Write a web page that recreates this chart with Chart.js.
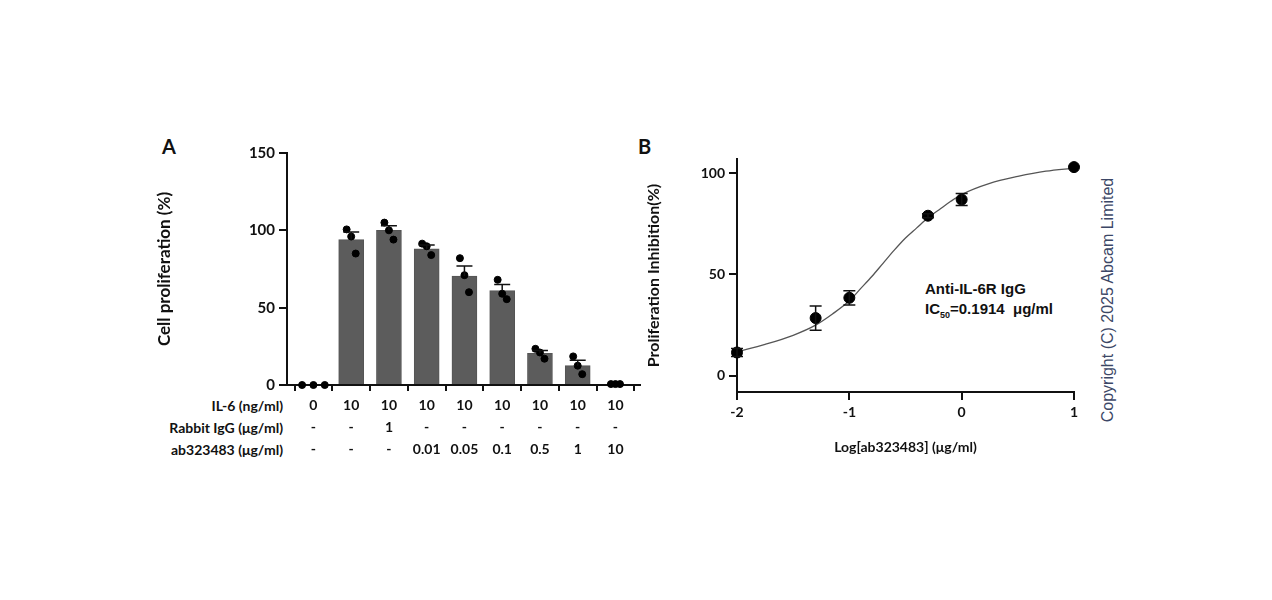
<!DOCTYPE html>
<html><head><meta charset="utf-8">
<script src="https://cdn.jsdelivr.net/npm/chart.js@4/dist/chart.umd.min.js"></script>
<style>
body{margin:0;width:1272px;height:600px;background:#fff;position:relative;font-family:Lato,"Noto Sans",sans-serif;overflow:hidden}
canvas{position:absolute}
.t{position:absolute;font-weight:bold;color:#111;white-space:nowrap}
</style></head><body>
<div class="t" style="left:162px;top:134px;font-size:20px">A</div>
<div class="t" style="left:638px;top:134px;font-size:20px">B</div>
<div class="t" style="right:989px;top:397px;font-size:14px;text-align:right">IL-6 (ng/ml)</div>
<div class="t" style="right:989px;top:419px;font-size:14px;text-align:right">Rabbit IgG (μg/ml)</div>
<div class="t" style="right:989px;top:441px;font-size:14px;text-align:right">ab323483 (μg/ml)</div>
<div class="t" style="left:925px;top:279px;font-size:15px;line-height:20px;font-family:'Liberation Sans',Arial">Anti-IL-6R IgG<br>IC<sub style="font-size:9px">50</sub>=0.1914&nbsp; μg/ml</div>
<div style="position:absolute;left:1108px;top:300px;transform:translate(-50%,-50%) rotate(-90deg);font-family:'Liberation Sans',Arial;font-size:16px;color:#3c4766;white-space:nowrap">Copyright (C) 2025 Abcam Limited</div>
<canvas id="a" style="left:150px;top:140px;width:500px;height:330px" width="500" height="330"></canvas>
<canvas id="b" style="left:640px;top:140px;width:460px;height:320px" width="460" height="320"></canvas>
<script>
// ---- Panel A data ----
const il6 = ['0','10','10','10','10','10','10','10','10'];
const rabbitIgG = ['-','-','1','-','-','-','-','-','-'];
const ab323483 = ['-','-','-','0.01','0.05','0.1','0.5','1','10'];
const meansA = [0, 94, 100, 88, 70.5, 61, 20.5, 12.5, 0];
const semA = [0, 5, 3, 2.5, 6.5, 4, 1.8, 3.5, 0];
const replicatesA = [[0,0,0],[100.6,96,85],[105,100,94],[91.4,89.7,84],[82,71,60],[68,59,55.5],[23.4,21,17],[18.5,12.5,7],[0.6,0.6,0.6]];
const jitterA = [-0.12, 0, 0.12]; // horizontal spread of replicate dots
// ---- Panel B data ----
const logConc = [-2, -1.3, -1, -0.3, 0, 1];
const inhibition = [11.5, 28.5, 38.5, 79, 87, 103];
const semB = [2, 6, 3.5, 1, 3, 0];
const fitX = [-2, -1.75, -1.5, -1.3, -1.15, -1, -0.9, -0.8, -0.7, -0.6, -0.5, -0.4, -0.3, -0.2, -0.1, 0, 0.25, 0.5, 0.75, 1];
const fitY = [11.8, 15.5, 20, 25, 30.5, 37, 43, 49, 55.5, 62, 68, 73, 78, 82, 86, 89.5, 95, 98.4, 101, 102.5];

Chart.defaults.font.family = 'Lato, "Noto Sans", sans-serif';
Chart.defaults.font.weight = 'bold';
Chart.defaults.color = '#111';

const errPlugin = {
  id:'errbars',
  afterDatasetsDraw(chart){
    const o = chart.options.plugins.errbars; if(!o) return;
    const meta = chart.getDatasetMeta(o.datasetIndex);
    const ys = chart.scales.y, ctx = chart.ctx;
    ctx.save(); ctx.strokeStyle='#111'; ctx.lineWidth=1.5;
    meta.data.forEach((el,i)=>{
      const e=o.errors[i]; if(!e) return;
      const v=o.values[i];
      const x=el.x, yt=ys.getPixelForValue(v+e), yb=ys.getPixelForValue(v-e);
      ctx.beginPath();
      ctx.moveTo(x, o.both? yb : ys.getPixelForValue(v)); ctx.lineTo(x,yt);
      ctx.moveTo(x-o.cap,yt); ctx.lineTo(x+o.cap,yt);
      if(o.both){ctx.moveTo(x-o.cap,yb); ctx.lineTo(x+o.cap,yb);}
      ctx.stroke();
    });
    ctx.restore();
  }
};

const dots = [];
replicatesA.forEach((r,i)=>r.forEach((v,j)=>dots.push({x:i+jitterA[j]*(i===0?2.5:1), y:v})));

new Chart(document.getElementById('a'), {
  data:{datasets:[
    {type:'scatter', data:dots, pointRadius:3.5, backgroundColor:'#000', borderColor:'#000', clip:false, order:0},
    {type:'bar', data:meansA.map((v,i)=>({x:i,y:v})), backgroundColor:'#5c5c5c', borderColor:'#555', borderWidth:1, barThickness:25, order:1}
  ]},
  options:{responsive:false, animation:false,
    layout:{padding:{top:12,right:10}},
    plugins:{legend:{display:false}, tooltip:{enabled:false},
      errbars:{datasetIndex:1, errors:semA, values:meansA, cap:8, both:false}},
    scales:{
      x:{type:'linear', min:-0.7, max:8.65, offset:false,
        afterBuildTicks:s=>{s.ticks=il6.map((_,i)=>({value:i}));},
        afterFit:s=>{s.height=85;},
        border:{color:'#111',width:2},
        grid:{drawOnChartArea:false, tickLength:6, color:'#111', lineWidth:2},
        ticks:{autoSkip:false, maxRotation:0, padding:4, font:{size:14,lineHeight:1.55},
          callback:v=>[il6[v], rabbitIgG[v], ab323483[v]]}},
      y:{min:0, max:150,
        afterBuildTicks:s=>{s.ticks=[0,50,100,150].map(v=>({value:v}));},
        afterFit:s=>{s.width=137;},
        border:{color:'#111',width:2},
        grid:{drawOnChartArea:false, tickLength:8, color:'#111', lineWidth:2},
        ticks:{font:{size:15}, padding:4},
        title:{display:true, text:'Cell proliferation (%)', font:{size:17}, padding:{bottom:8}}}
    }},
  plugins:[errPlugin]
});

new Chart(document.getElementById('b'), {
  data:{datasets:[
    {type:'scatter', data:logConc.map((x,i)=>({x, y:inhibition[i]})), pointRadius:5.5, backgroundColor:'#000', borderColor:'#000', clip:false, order:0},
    {type:'line', data:fitX.map((x,i)=>({x, y:fitY[i]})), borderColor:'#555', borderWidth:1.3, pointRadius:0, cubicInterpolationMode:'monotone', order:1}
  ]},
  options:{responsive:false, animation:false,
    layout:{padding:{top:19,right:26}},
    plugins:{legend:{display:false}, tooltip:{enabled:false},
      errbars:{datasetIndex:0, errors:semB, values:inhibition, cap:6, both:true}},
    scales:{
      x:{type:'linear', min:-2, max:1,
        afterBuildTicks:s=>{s.ticks=[-2,-1,0,1].map(v=>({value:v}));},
        afterFit:s=>{s.height=68;},
        border:{color:'#111',width:2},
        grid:{drawOnChartArea:false, tickLength:8, color:'#111', lineWidth:2},
        ticks:{font:{size:14}, padding:4},
        title:{display:true, text:'Log[ab323483] (μg/ml)', font:{size:14}, padding:{top:8}}},
      y:{min:-8, max:107,
        afterBuildTicks:s=>{s.ticks=[0,50,100].map(v=>({value:v}));},
        afterFit:s=>{s.width=97;},
        border:{color:'#111',width:2},
        grid:{drawOnChartArea:false, tickLength:8, color:'#111', lineWidth:2},
        ticks:{font:{size:14}, padding:4},
        title:{display:true, text:'Proliferation Inhibition(%)', font:{size:16}, padding:{bottom:4}}}
    }},
  plugins:[errPlugin]
});
</script></body></html>
